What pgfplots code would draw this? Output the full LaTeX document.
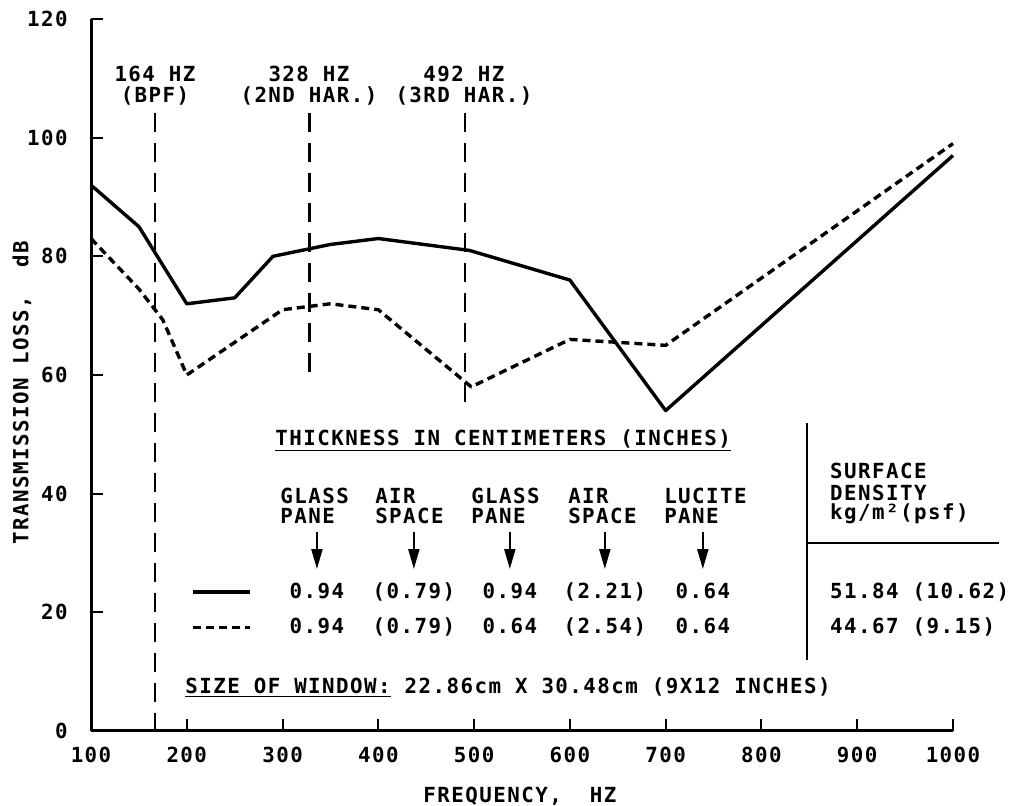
\documentclass[border=0pt]{standalone}
\usepackage{fontspec}
\usepackage{pgfplots}
\pgfplotsset{compat=1.18}
\usetikzlibrary{arrows.meta}
\newfontfamily\plotfont{DejaVu Sans Mono}[LetterSpace=7]
\newcommand\pf{\plotfont\bfseries\fontsize{10.4pt}{10pt}\selectfont}

% transmission loss, solid and dashed windows
\pgfplotstableread{
f tl
100 92
150 85
200 72
250 73
290 80
350 82
400 83
495 81
600 76
700 54
1000 97
}\solid
\pgfplotstableread{
f tl
100 83
150 74.5
175 69.3
200 60
300 71
350 72
400 71
497 58
600 66
700 65
1000 99
}\dashed

\tikzset{lbl/.style={font=\pf, inner sep=0pt}}

\begin{document}
\begin{tikzpicture}
\useasboundingbox (-45.5pt,-37.5pt) rectangle (462pt,365.5pt);
\begin{axis}[
  at={(0,0)}, anchor=south west,
  scale only axis, width=431pt, height=356pt,
  xmin=100, xmax=1000, ymin=0, ymax=120,
  axis x line*=bottom, axis y line*=left,
  axis line style={-, line width=1.5pt},
  x axis line style={-}, y axis line style={-},
  xtick={100,200,...,1000}, ytick={0,20,...,120},
  tick align=inside, major tick length=6pt,
  tick style={line width=1pt, black},
  /pgf/number format/assume math mode=true,
  /pgf/number format/1000 sep={},
  tick label style={font=\pf},
  xticklabel style={anchor=north, inner sep=0pt, yshift=-8pt},
  yticklabel style={anchor=east, inner sep=0pt, xshift=-11.5pt},
  clip=false,
]
\addplot[black, line width=1.7pt, line join=round] table[x=f, y=tl] {\solid};
\addplot[black, line width=1.7pt, line join=round, dash pattern=on 4pt off 2.5pt] table[x=f, y=tl] {\dashed};

% harmonic markers
\draw[line width=1.2pt, dash pattern=on 9.5pt off 5.5pt] (axis cs:167,104.2) -- (axis cs:167,0);
\draw[line width=1.2pt, dash pattern=on 9.5pt off 5.5pt] (axis cs:328,104.2) -- (axis cs:328,59.8);
\draw[line width=1.2pt, dash pattern=on 9.5pt off 5.5pt] (axis cs:490.4,104.2) -- (axis cs:490.4,55.5);
\node[lbl, anchor=base] at (axis cs:166.8,109.4) {164 HZ};
\node[lbl, anchor=base] at (axis cs:166.8,106.0) {(BPF)};
\node[lbl, anchor=base] at (axis cs:327.6,109.4) {328 HZ};
\node[lbl, anchor=base] at (axis cs:327.6,106.0) {(2ND HAR.)};
\node[lbl, anchor=base] at (axis cs:489.4,109.4) {492 HZ};
\node[lbl, anchor=base] at (axis cs:489.4,106.0) {(3RD HAR.)};

% thickness table
\node[lbl, anchor=base west] at (axis cs:292.1,48.2) {\underline{THICKNESS IN CENTIMETERS~(INCHES)}};
\node[lbl, anchor=base west] at (axis cs:297.3,38.4) {GLASS};
\node[lbl, anchor=base west] at (axis cs:297.3,34.9) {PANE};
\node[lbl, anchor=base west] at (axis cs:396.4,38.4) {AIR};
\node[lbl, anchor=base west] at (axis cs:396.4,34.9) {SPACE};
\node[lbl, anchor=base west] at (axis cs:496.6,38.4) {GLASS};
\node[lbl, anchor=base west] at (axis cs:496.6,34.9) {PANE};
\node[lbl, anchor=base west] at (axis cs:597.9,38.4) {AIR};
\node[lbl, anchor=base west] at (axis cs:597.9,34.9) {SPACE};
\node[lbl, anchor=base west] at (axis cs:698.1,38.4) {LUCITE};
\node[lbl, anchor=base west] at (axis cs:698.1,34.9) {PANE};

\draw[line width=1pt, -{Triangle[length=10pt, width=5.5pt]}] (axis cs:335.9,33.5) -- (axis cs:335.9,27.3);
\draw[line width=1pt, -{Triangle[length=10pt, width=5.5pt]}] (axis cs:437.1,33.5) -- (axis cs:437.1,27.3);
\draw[line width=1pt, -{Triangle[length=10pt, width=5.5pt]}] (axis cs:537.3,33.5) -- (axis cs:537.3,27.3);
\draw[line width=1pt, -{Triangle[length=10pt, width=5.5pt]}] (axis cs:636.5,33.5) -- (axis cs:636.5,27.3);
\draw[line width=1pt, -{Triangle[length=10pt, width=5.5pt]}] (axis cs:738.8,33.5) -- (axis cs:738.8,27.3);

\draw[line width=1.7pt] (axis cs:206.5,23.4) -- (axis cs:266,23.4);
\draw[line width=1.7pt, dash pattern=on 4pt off 2.5pt] (axis cs:206.5,17.4) -- (axis cs:266,17.4);

\node[lbl, anchor=base] at (axis cs:335.9,22.4) {0.94};
\node[lbl, anchor=base] at (axis cs:437.1,22.4) {(0.79)};
\node[lbl, anchor=base] at (axis cs:537.3,22.4) {0.94};
\node[lbl, anchor=base] at (axis cs:636.5,22.4) {(2.21)};
\node[lbl, anchor=base] at (axis cs:738.8,22.4) {0.64};
\node[lbl, anchor=base] at (axis cs:335.9,16.5) {0.94};
\node[lbl, anchor=base] at (axis cs:437.1,16.5) {(0.79)};
\node[lbl, anchor=base] at (axis cs:537.3,16.5) {0.64};
\node[lbl, anchor=base] at (axis cs:636.5,16.5) {(2.54)};
\node[lbl, anchor=base] at (axis cs:738.8,16.5) {0.64};

% surface density column
\draw[line width=1.2pt] (axis cs:847.4,51.9) -- (axis cs:847.4,12.0);
\draw[line width=1.2pt] (axis cs:847.4,31.7) -- (axis cs:1047.8,31.7);
\node[lbl, anchor=base west] at (axis cs:871.4,42.5) {SURFACE};
\node[lbl, anchor=base west] at (axis cs:871.4,38.8) {DENSITY};
\node[lbl, anchor=base west] at (axis cs:871.4,35.6) {kg/m²(psf)};
\node[lbl, anchor=base west] at (axis cs:871.4,22.4) {51.84 (10.62)};
\node[lbl, anchor=base west] at (axis cs:871.4,16.5) {44.67 (9.15)};

\node[lbl, anchor=base west] at (axis cs:198.1,6.4) {\underline{SIZE OF WINDOW:} 22.86cm X 30.48cm (9X12 INCHES)};

% axis titles
\node[lbl, anchor=base] at (axis cs:547.8,-12.0) {FREQUENCY,~~HZ};
\node[lbl, rotate=90, anchor=center] at (axis cs:28,57) {TRANSMISSION LOSS,~~dB};
\end{axis}
\end{tikzpicture}
\end{document}
